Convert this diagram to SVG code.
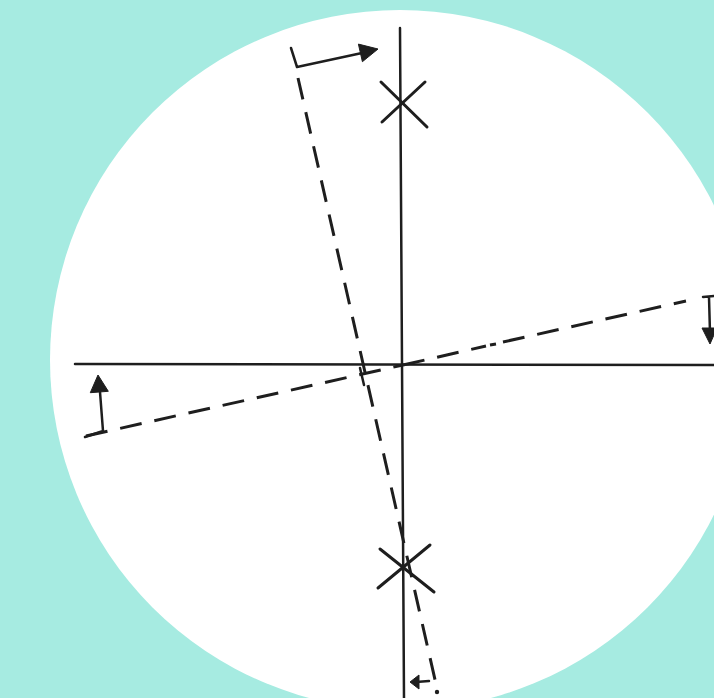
<svg xmlns="http://www.w3.org/2000/svg" width="714" height="698" viewBox="0 0 714 698">
<defs>
<style>
.ax{stroke:#1e1e1e;stroke-width:2.5;fill:none;stroke-linecap:round}
.ds{stroke:#1e1e1e;stroke-width:3;fill:none;stroke-dasharray:22 13}
.sl{stroke:#1e1e1e;stroke-width:2.5;fill:none;stroke-linecap:round;stroke-linejoin:round}
.xm{stroke:#1e1e1e;stroke-width:3;fill:none;stroke-linecap:round}
.hd{fill:#1e1e1e;stroke:#1e1e1e;stroke-width:1;stroke-linejoin:round}
</style>
</defs>
<rect width="714" height="698" fill="#a6ebe1"/>
<circle cx="400" cy="360" r="350" fill="#ffffff"/>
<g id="axes">
<line class="ax" x1="400" y1="28" x2="404" y2="698"/>
<line class="ax" x1="75" y1="364" x2="714" y2="365"/>
</g>
<g id="poles">
<g id="pole-top">
<line class="xm" x1="381" y1="82" x2="427" y2="127"/>
<line class="xm" x1="382" y1="122" x2="425" y2="82"/>
</g>
<g id="pole-bottom">
<line class="xm" x1="380" y1="549" x2="434" y2="592"/>
<line class="xm" x1="378" y1="588" x2="430" y2="545"/>
</g>
</g>
<g id="connectors">
<line class="ds" x1="298" y1="78" x2="436" y2="684"/>
<line class="ds" x1="86" y1="436" x2="403" y2="365"/>
<path class="ds" d="M403,365 L486,346"/>
<path class="ds" d="M490,345 L496,344"/>
<path class="ds" d="M503,342 L686,301"/>
<path class="sl" d="M360,368 L364,385"/>
<path class="sl" d="M291,48 L297,67 L362,53"/>
<path class="hd" d="M378,49 L362.4,61.7 L358.4,44.1 z"/>
<path class="sl" d="M85,437 L103,431 L100,392"/>
<path class="hd" d="M98,375 L108.3,391.3 L90.3,392.7 z"/>
<path class="sl" d="M703,297 L714,296 M709,297 L710,333"/>
<path class="hd" d="M702,328 L717,328 L710,344 z"/>
<path class="sl" d="M429,681 L416,682"/>
<path class="hd" d="M419,675 L410,682 L419,689 z"/>
<circle cx="437" cy="692" r="2.2" fill="#1e1e1e"/>
</g>
</svg>
